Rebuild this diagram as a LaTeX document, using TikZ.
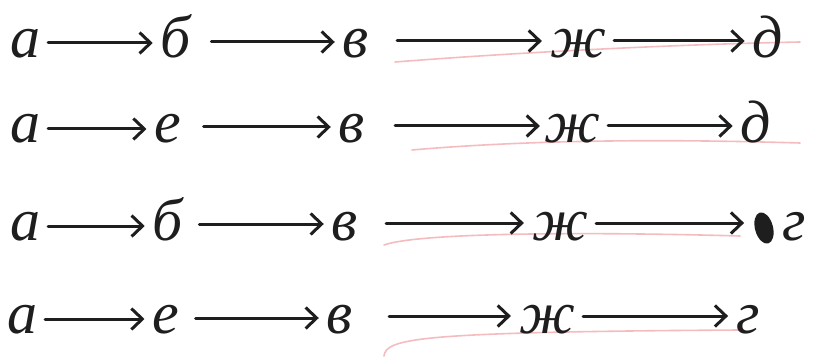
\documentclass[tikz,border=0pt]{standalone}
\usepackage{fontspec}
\setmainfont{Liberation Serif}
\usetikzlibrary{arrows.meta}
\definecolor{ink}{HTML}{1E1E1E}
\definecolor{redpencil}{HTML}{F2A0A4}
\begin{document}
\begin{tikzpicture}[x=1pt,y=-1pt,
  letter/.style={anchor=base,inner sep=2pt,text=ink,font=\fontsize{60}{64}\selectfont\itshape},
  arr/.style={draw=ink,line width=3pt,line cap=round,-{Straight Barb[length=11pt,width=21pt,line width=3pt]},shorten <=6pt,shorten >=6pt},
  redline/.style={draw=redpencil,line width=1.6pt,opacity=0.7,line cap=round}]
\useasboundingbox[fill=white] (0,0) rectangle (818,358);
% red pencil lines
\draw[redline] (395,62) .. controls (550,50) and (700,44) .. (800,42);
\draw[redline] (412,150) .. controls (550,138) and (700,140) .. (800,143);
\draw[redline] (384,245) .. controls (420,232) and (600,232) .. (740,236);
\draw[redline] (384,356) .. controls (386,338) and (420,332) .. (740,330);
% row 1
\node[letter] (a1) at (25,58) {а};
\node[letter] (b1) at (176,58) {б};
\node[letter] (c1) at (356,58) {в};
\node[letter] (d1) at (578,58) {ж};
\node[letter] (e1) at (768,58) {д};
% row 2
\node[letter] (a2) at (25,143) {а};
\node[letter] (b2) at (168,143) {е};
\node[letter] (c2) at (352,143) {в};
\node[letter] (d2) at (572,143) {ж};
\node[letter] (e2) at (756,143) {д};
% row 3
\node[letter] (a3) at (25,240) {а};
\node[letter] (b3) at (168,240) {б};
\node[letter] (c3) at (345,240) {в};
\node[letter] (d3) at (560,240) {ж};
\node[letter] (e3) at (794,240) {г};
% row 4
\node[letter] (a4) at (22,333) {а};
\node[letter] (b4) at (166,333) {е};
\node[letter] (c4) at (340,333) {в};
\node[letter] (d4) at (547,333) {ж};
\node[letter] (e4) at (748,333) {г};
% ink blot
\fill[ink,rotate around={15:(764,228)}] (764,228) ellipse [x radius=9,y radius=16];
% arrows
\draw[arr] ([yshift=15pt]a1.base east) -- ([yshift=15pt]b1.base west);
\draw[arr,shorten <=18pt] ([yshift=16pt]b1.base east) -- ([yshift=16pt]c1.base west);
\draw[arr,shorten <=26pt] ([yshift=17pt]c1.base east) -- ([yshift=17pt]d1.base west);
\draw[arr] ([yshift=17pt]d1.base east) -- ([yshift=17pt]e1.base west);
\draw[arr] ([yshift=14pt]a2.base east) -- ([yshift=14pt]b2.base west);
\draw[arr,shorten <=20pt] ([yshift=16pt]b2.base east) -- ([yshift=16pt]c2.base west);
\draw[arr,shorten <=28pt,shorten >=2pt] ([yshift=17pt]c2.base east) -- ([yshift=17pt]d2.base west);
\draw[arr] ([yshift=17pt]d2.base east) -- ([yshift=17pt]e2.base west);
\draw[arr] ([yshift=14pt]a3.base east) -- ([yshift=14pt]b3.base west);
\draw[arr,shorten <=14pt] ([yshift=16pt]b3.base east) -- ([yshift=16pt]c3.base west);
\draw[arr,shorten <=26pt] ([yshift=17pt]c3.base east) -- ([yshift=17pt]d3.base west);
\draw[arr,shorten >=36pt] ([yshift=17pt]d3.base east) -- ([yshift=17pt]e3.base west);
\draw[arr] ([yshift=14pt]a4.base east) -- ([yshift=14pt]b4.base west);
\draw[arr,shorten <=14pt] ([yshift=15pt]b4.base east) -- ([yshift=15pt]c4.base west);
\draw[arr,shorten <=34pt] ([yshift=17pt]c4.base east) -- ([yshift=17pt]d4.base west);
\draw[arr] ([yshift=17pt]d4.base east) -- ([yshift=17pt]e4.base west);
\end{tikzpicture}
\end{document}
